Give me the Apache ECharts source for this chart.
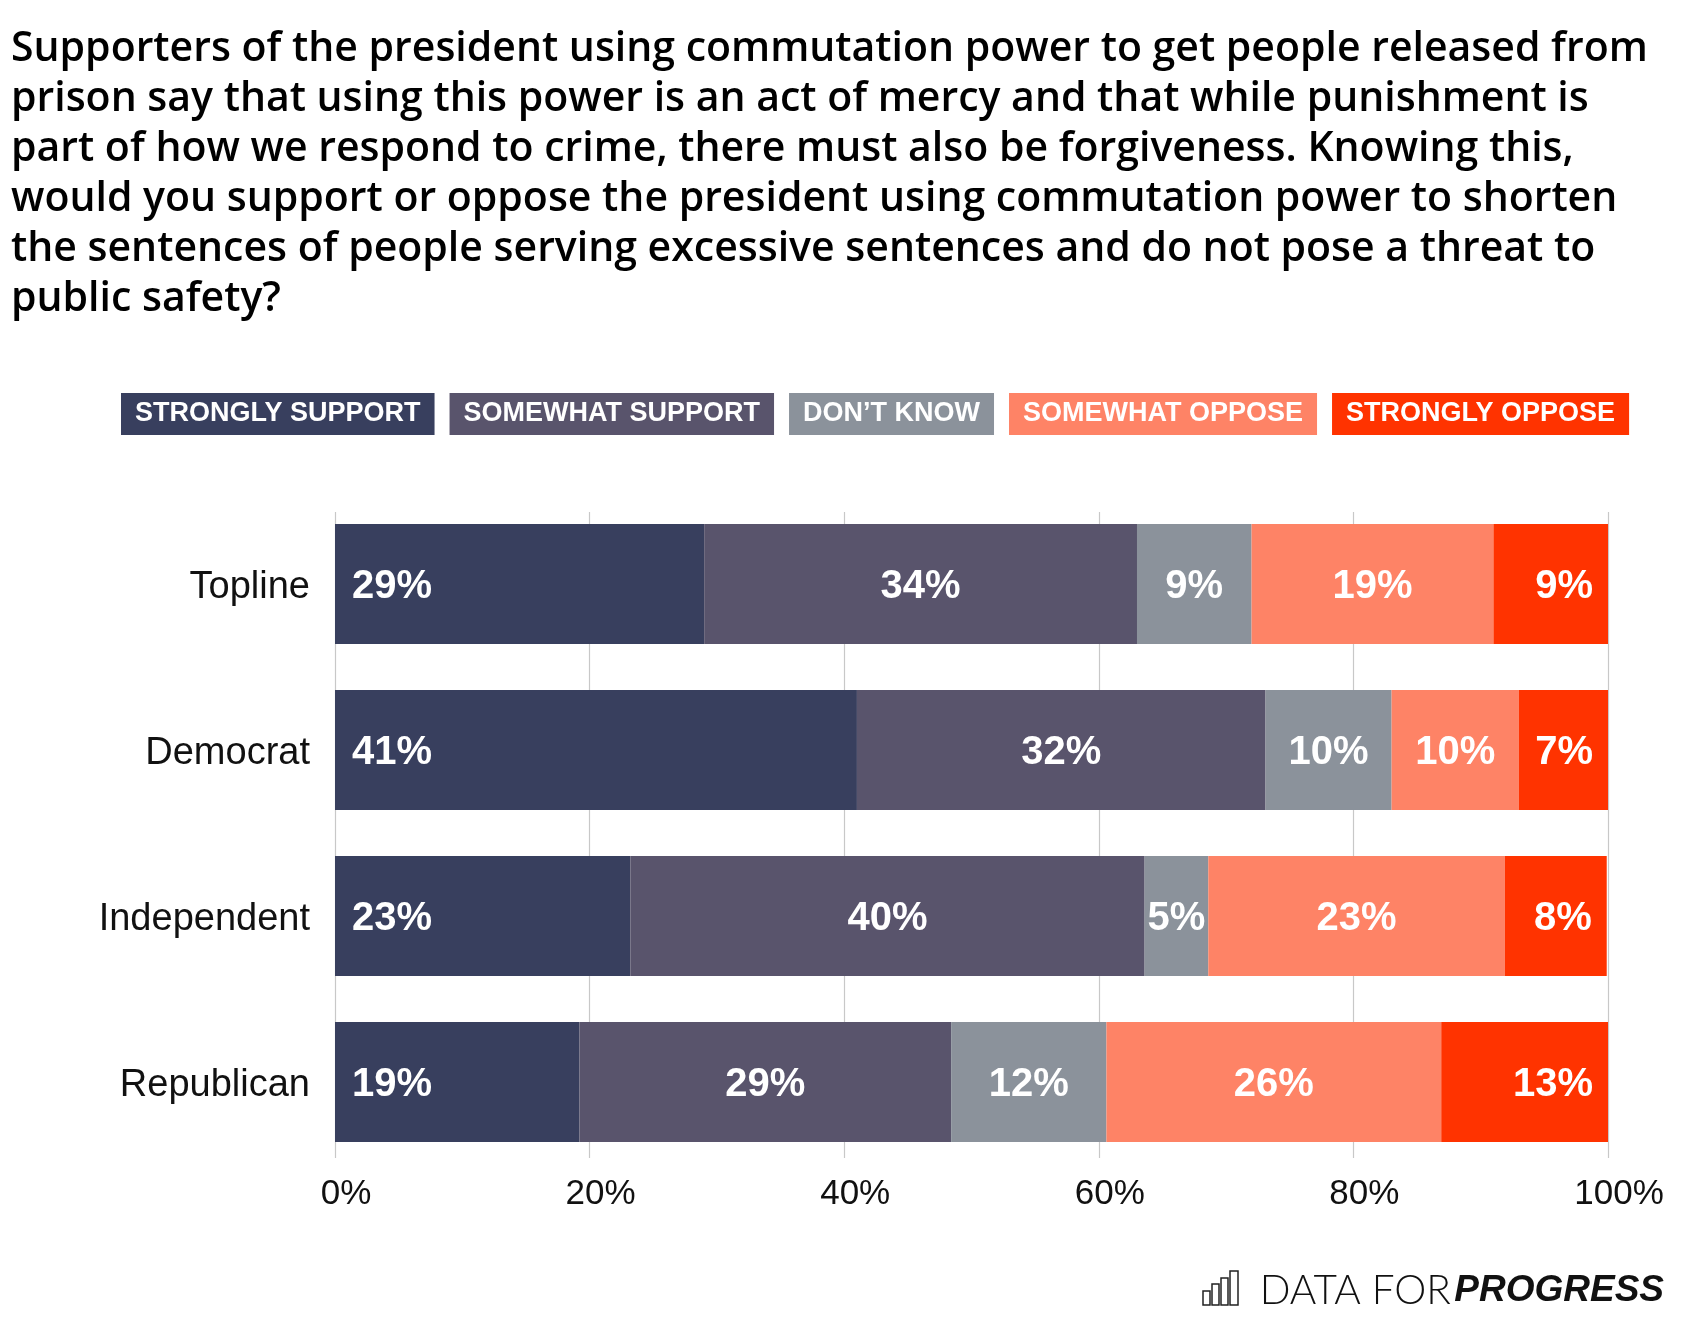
<!DOCTYPE html>
<html>
<head>
<meta charset="utf-8">
<script src="https://cdn.jsdelivr.net/npm/echarts@6/dist/echarts.min.js"></script>
<style>html,body{margin:0;padding:0;background:#fff}#c{width:1700px;height:1344px}</style>
</head>
<body>
<div id="c"></div>
<script>
const titleText = 'Supporters of the president using commutation power to get people released from\nprison say that using this power is an act of mercy and that while punishment is\npart of how we respond to crime, there must also be forgiveness. Knowing this,\nwould you support or oppose the president using commutation power to shorten\nthe sentences of people serving excessive sentences and do not pose a threat to\npublic safety?';
const categories = ['Topline', 'Democrat', 'Independent', 'Republican'];
const seriesNames = ['STRONGLY SUPPORT', 'SOMEWHAT SUPPORT', 'DON\u2019T KNOW', 'SOMEWHAT OPPOSE', 'STRONGLY OPPOSE'];
const seriesColors = ['#383f5e', '#59546c', '#8b929b', '#fe8366', '#ff3300'];
const stronglySupport = [29.0, 41.0, 23.2, 19.2];
const somewhatSupport = [34.0, 32.1, 40.4, 29.2];
const dontKnow = [9.0, 9.9, 5.0, 12.2];
const somewhatOppose = [19.0, 10.0, 23.3, 26.3];
const stronglyOppose = [9.0, 7.0, 8.0, 13.1];
const xTicks = [0, 20, 40, 60, 80, 100];

const seriesData = [stronglySupport, somewhatSupport, dontKnow, somewhatOppose, stronglyOppose];
const chart = echarts.init(document.getElementById('c'), null, {renderer: 'canvas'});

const labelPos = ['insideLeft', 'inside', 'inside', 'inside', 'insideRight'];
const labelDist = [17, 5, 5, 5, 15];

const series = seriesNames.map((name, i) => ({
  name: name,
  type: 'bar',
  stack: 'total',
  xAxisIndex: 0,
  yAxisIndex: 0,
  barWidth: 120,
  itemStyle: {color: seriesColors[i]},
  label: {
    show: true,
    position: labelPos[i],
    distance: labelDist[i],
    offset: [0, 3],
    color: '#fff',
    fontFamily: 'Liberation Sans',
    fontWeight: 'bold',
    fontSize: 40,
    formatter: p => Math.round(p.value) + '%'
  },
  emphasis: {disabled: true},
  data: seriesData[i]
}));

const option = {
  backgroundColor: '#fff',
  animation: false,
  title: {
    text: titleText,
    left: 6,
    top: 19,
    textStyle: {
      fontFamily: 'Open Sans',
      fontWeight: 600,
      fontSize: 41,
      lineHeight: 50,
      color: '#000'
    }
  },
  legend: {
    left: 116,
    top: 393,
    padding: 0,
    itemWidth: 0,
    itemHeight: 0,
    itemGap: 10,
    selectedMode: false,
    textStyle: {
      color: '#fff',
      fontFamily: 'Liberation Sans',
      fontWeight: 'bold',
      fontSize: 27,
      lineHeight: 26,
      padding: [8, 14, 8, 14]
    },
    data: seriesNames.map((n, i) => ({
      name: n,
      icon: 'rect',
      textStyle: {backgroundColor: seriesColors[i]}
    }))
  },
  grid: [
    {left: 335, right: 92, top: 501, bottom: 179, containLabel: false},
    {left: 335, right: 92, top: 512, bottom: 186, containLabel: false}
  ],
  xAxis: [
    {
      type: 'value', gridIndex: 0, min: xTicks[0], max: xTicks[xTicks.length - 1], interval: xTicks[1] - xTicks[0],
      axisLine: {show: false}, axisTick: {show: false}, splitLine: {show: false},
      axisLabel: {
        formatter: '{value}%', fontFamily: 'Liberation Sans', fontSize: 35, color: '#111',
        margin: 12, padding: [0, 0, 0, 22]
      }
    },
    {
      type: 'value', gridIndex: 1, min: xTicks[0], max: xTicks[xTicks.length - 1], interval: xTicks[1] - xTicks[0],
      axisLine: {show: false}, axisTick: {show: false}, axisLabel: {show: false},
      splitLine: {show: true, lineStyle: {color: '#c8c8c8', width: 1.2}}
    }
  ],
  yAxis: [
    {
      type: 'category', gridIndex: 0, data: categories, inverse: true,
      axisLine: {show: false}, axisTick: {show: false},
      axisLabel: {
        margin: 25,
        formatter: v => '{a|' + v + '}',
        rich: {a: {fontFamily: 'Liberation Sans', fontSize: 38, color: '#111', padding: [8, 0, 0, 0]}}
      }
    },
    {type: 'value', gridIndex: 1, show: false, min: 0, max: 1}
  ],
  series: series,
  graphic: [
    {
      type: 'group',
      children: [
        {type: 'rect', shape: {x: 1203, y: 1291, width: 7, height: 14}, style: {fill: 'none', stroke: '#222', lineWidth: 1.5}},
        {type: 'rect', shape: {x: 1212, y: 1284, width: 7, height: 21}, style: {fill: 'none', stroke: '#222', lineWidth: 1.5}},
        {type: 'rect', shape: {x: 1221, y: 1278, width: 7, height: 27}, style: {fill: 'none', stroke: '#222', lineWidth: 1.5}},
        {type: 'rect', shape: {x: 1230, y: 1271, width: 8, height: 34}, style: {fill: 'none', stroke: '#222', lineWidth: 1.5}}
      ]
    },
    {
      type: 'text',
      x: 1664,
      y: 1291,
      style: {
        text: '{a|DATA FOR} {b|PROGRESS}',
        align: 'right',
        verticalAlign: 'middle',
        rich: {
          a: {fontFamily: 'Lato', fontWeight: 300, fontSize: 40.5, fill: '#111'},
          b: {fontFamily: 'Liberation Sans', fontWeight: 'bold', fontStyle: 'italic', fontSize: 37, fill: '#111'}
        }
      }
    }
  ]
};
chart.setOption(option);
</script>
</body>
</html>
